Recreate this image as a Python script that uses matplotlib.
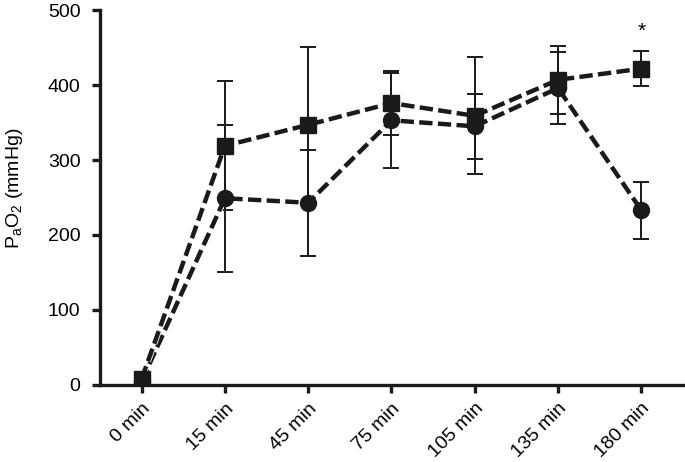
import matplotlib.pyplot as plt
import matplotlib.patheffects as pe
import numpy as np

plt.rcParams['font.family'] = ['Liberation Sans', 'DejaVu Sans']

# time points
times = ["0 min", "15 min", "45 min", "75 min", "105 min", "135 min", "180 min"]

# squares group
sq_mean = [8, 319, 347, 376, 359, 407, 422]
sq_err = [0, 86, 104, 43, 78, 45, 23]

# circles group
ci_mean = [5, 249, 243, 353, 345, 396, 233]
ci_err = [0, 98, 71, 63, 43, 48, 38]

x = np.arange(len(times))

fig = plt.figure(figsize=(6.85, 4.62), dpi=100)
ax = fig.add_axes([0.146, 0.167, 0.851, 0.811])

outline = [pe.Stroke(linewidth=4.4, foreground='white'), pe.Normal()]

for mean, err, mk in [(ci_mean, ci_err, 'o'), (sq_mean, sq_err, 's')]:
    ax.errorbar(x, mean, yerr=err, fmt='none', ecolor='#1a1a1a',
                elinewidth=1.4, capsize=6, capthick=1.4, zorder=2)
    # dashed line with a thin white halo, then the markers on top
    ax.plot(x, mean, color='#1a1a1a', linestyle=(0, (3, 1.2)), linewidth=3.2,
            path_effects=outline, zorder=3)
    ax.plot(x, mean, linestyle='none', marker=mk,
            markersize=11 if mk == 's' else 11.5,
            markerfacecolor='#1a1a1a', markeredgecolor='#1a1a1a', zorder=4)

# significance mark
ax.text(x[-1], 472, "*", ha='center', va='center', fontsize=15)

ax.set_xlim(-0.5, 6.5)
ax.set_ylim(0, 500)
ax.set_yticks([0, 100, 200, 300, 400, 500])
ax.set_xticks(x)
ax.set_xticklabels(times, rotation=45, ha='right', rotation_mode='anchor')
ax.set_ylabel("P$_\\mathregular{a}$O$_\\mathregular{2}$ (mmHg)", fontsize=14)
ax.yaxis.set_label_coords(-0.128, 0.525)

for s in ['top', 'right']:
    ax.spines[s].set_visible(False)
for s in ['left', 'bottom']:
    ax.spines[s].set_linewidth(2.4)
    ax.spines[s].set_color('#1a1a1a')
ax.tick_params(width=2.4, length=6, labelsize=14, color='#1a1a1a')
ax.tick_params(axis='y', pad=8)
ax.tick_params(axis='x', pad=5)

fig.savefig("out.png", dpi=100)
